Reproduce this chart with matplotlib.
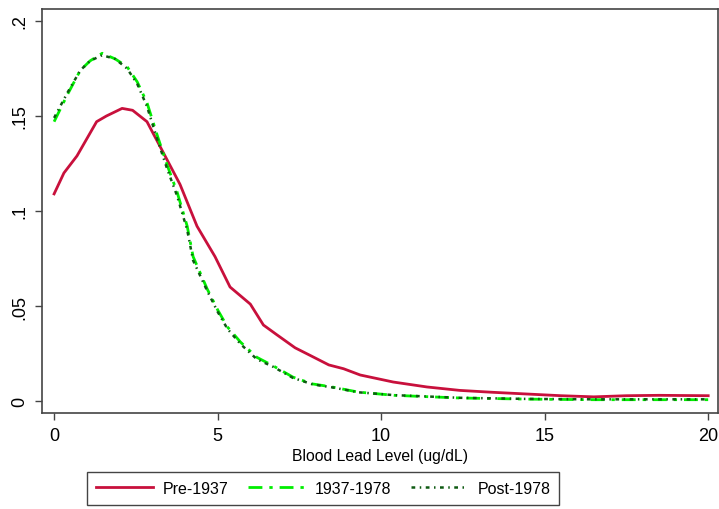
import matplotlib.pyplot as plt

plt.rcParams['font.family'] = ['Liberation Sans', 'DejaVu Sans']

# kernel density estimates
x_pre = [0, 0.3, 0.7, 1.0, 1.3, 1.6, 2.08, 2.4, 2.84, 3.3, 3.85, 4.37, 4.92, 5.38, 6.0, 6.4,
         6.8, 7.37, 7.83, 8.4, 8.85, 9.36, 10.37, 11.4, 12.4, 13.4, 14.45, 15.5, 16.5, 17.5,
         18.5, 20]
y_pre = [0.109, 0.120, 0.129, 0.138, 0.147, 0.150, 0.154, 0.153, 0.147, 0.132, 0.114, 0.092,
         0.076, 0.060, 0.051, 0.040, 0.035, 0.028, 0.024, 0.019, 0.017, 0.0137, 0.010, 0.0074,
         0.0056, 0.0046, 0.0037, 0.0028, 0.0022, 0.0028, 0.0030, 0.0028]

x_mid = [0, 0.4, 0.8, 1.1, 1.47, 1.87, 2.23, 2.54, 2.84, 3.15, 3.46, 3.76, 4.07, 4.25, 4.68,
         5.0, 5.3, 5.7, 6.2, 6.7, 7.3, 7.9, 8.5, 9.3, 10.4, 12.4, 14.5, 16.5, 20]
y_mid = [0.147, 0.161, 0.174, 0.179, 0.183, 0.180, 0.176, 0.168, 0.157, 0.140, 0.124, 0.110,
         0.092, 0.076, 0.059, 0.048, 0.039, 0.031, 0.023, 0.0185, 0.0126, 0.009, 0.0074,
         0.0047, 0.003, 0.0016, 0.001, 0.0007, 0.0007]

x_post = [0, 0.4, 0.8, 1.1, 1.47, 1.87, 2.23, 2.54, 2.84, 3.15, 3.46, 3.76, 4.07, 4.25, 4.68,
          5.0, 5.3, 5.7, 6.2, 6.7, 7.3, 7.9, 8.5, 9.3, 10.4, 12.4, 14.5, 16.5, 20]
y_post = [0.149, 0.162, 0.174, 0.179, 0.182, 0.180, 0.175, 0.167, 0.155, 0.138, 0.122, 0.108,
          0.090, 0.074, 0.058, 0.047, 0.038, 0.030, 0.022, 0.018, 0.0122, 0.0088, 0.0072,
          0.0046, 0.0031, 0.0017, 0.0011, 0.0009, 0.0009]

labels = ['Pre-1937', '1937-1978', 'Post-1978']
x_ticks = [0, 5, 10, 15, 20]
y_ticks = [0, 0.05, 0.1, 0.15, 0.2]
y_ticklabels = ['0', '.05', '.1', '.15', '.2']

fig = plt.figure(figsize=(7.19, 5.10), dpi=100)
ax = fig.add_axes([42 / 719, 1 - 414 / 510, 676 / 719, 404 / 510])

ax.plot(x_pre, y_pre, color='#C8103C', lw=2, label=labels[0])
ax.plot(x_mid, y_mid, color='#00EE00', lw=2, dashes=(5, 2.5, 1.2, 2.5), label=labels[1])
ax.plot(x_post, y_post, color='#0E5A12', lw=1.8, dashes=(1.5, 1.8, 0.6, 1.8), label=labels[2])

ax.set_xlim(-0.37, 20.3)
ax.set_ylim(-0.0063, 0.2063)
ax.set_xticks(x_ticks)
ax.set_yticks(y_ticks)
ax.set_yticklabels(y_ticklabels, rotation=90, va='center')
ax.tick_params(labelsize=13, length=5, width=1, color='#444444', pad=5)
ax.set_xlabel('Blood Lead Level (ug/dL)', fontsize=11.3, labelpad=3)
for s in ax.spines.values():
    s.set_color('#444444')
    s.set_linewidth(1.2)

leg = fig.legend(loc='upper left', bbox_to_anchor=(87 / 719, 1 - 473 / 510),
                 ncol=3, fontsize=11.5, fancybox=False, framealpha=1,
                 edgecolor='#444444', handlelength=3.6, handletextpad=0.6,
                 columnspacing=1.2, borderpad=0.55, borderaxespad=0)
leg.get_frame().set_linewidth(1)

fig.savefig('out.png', dpi=100)
